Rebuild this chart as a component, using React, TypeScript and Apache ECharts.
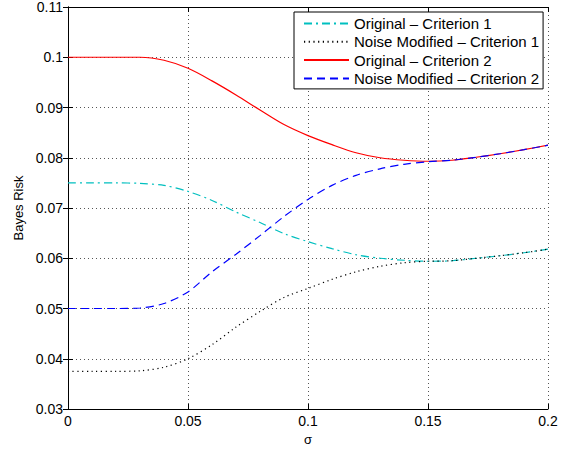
import React, { useEffect, useRef } from "react";
import * as echarts from "echarts";

const sigma = [0, 0.01, 0.02, 0.03, 0.04, 0.05, 0.06, 0.07, 0.08, 0.09, 0.1, 0.11, 0.12, 0.13, 0.14, 0.15, 0.16, 0.17, 0.18, 0.19, 0.2];
const originalC1 = [0.075, 0.075, 0.075, 0.0749, 0.0745, 0.0733, 0.0715, 0.0692, 0.0671, 0.0649, 0.0633, 0.0619, 0.0607, 0.06, 0.0596, 0.0594, 0.0595, 0.06, 0.0605, 0.0611, 0.0618];
const noiseC1 = [0.0375, 0.0375, 0.0375, 0.0376, 0.0383, 0.04, 0.0428, 0.0463, 0.0494, 0.0522, 0.054, 0.0558, 0.0573, 0.0584, 0.0591, 0.0594, 0.0595, 0.06, 0.0605, 0.0611, 0.0618];
const originalC2 = [0.1, 0.1, 0.1, 0.1, 0.0994, 0.0978, 0.0953, 0.0925, 0.0895, 0.0866, 0.0844, 0.0826, 0.081, 0.08, 0.0795, 0.0793, 0.0795, 0.0801, 0.0808, 0.0816, 0.0825];
const noiseC2 = [0.05, 0.05, 0.05, 0.0501, 0.051, 0.0533, 0.0573, 0.0608, 0.0645, 0.0683, 0.0717, 0.0745, 0.0765, 0.0778, 0.0787, 0.0792, 0.0795, 0.0801, 0.0808, 0.0816, 0.0825];

const seriesNames = ["Original – Criterion 1", "Noise Modified – Criterion 1", "Original – Criterion 2", "Noise Modified – Criterion 2"];
const xTickLabels = ["0", "0.05", "0.1", "0.15", "0.2"];
const yTickLabels = ["0.03", "0.04", "0.05", "0.06", "0.07", "0.08", "0.09", "0.1", "0.11"];

const FONT = "Liberation Sans, Arial, Helvetica, sans-serif";

export default function App() {
  const ref = useRef<HTMLDivElement>(null);
  useEffect(() => {
    if (!ref.current) return;
    const chart = echarts.init(ref.current, null, { renderer: "svg" });
    const toPairs = (ys: number[]) => sigma.map((x, i) => [x, ys[i]]);
    const gridLine = { show: true, lineStyle: { color: "#555", width: 1, type: [1, 3] as any } };
    const sharedAxis = {
      axisLine: { show: true, lineStyle: { color: "#000", width: 1 } },
      axisTick: { show: true, inside: true, length: 5, lineStyle: { color: "#000" } },
    };
    const option: any = {
      animation: false,
      backgroundColor: "#fff",
      textStyle: { fontFamily: FONT },
      grid: { left: 68, right: 19, top: 5, bottom: 42, containLabel: false },
      legend: {
        orient: "vertical",
        left: 294,
        top: 12,
        data: seriesNames,
        itemWidth: 45,
        itemHeight: 14,
        itemGap: 3.3,
        padding: [4, 4, 3, 9],
        backgroundColor: "#fff",
        borderColor: "#000",
        borderWidth: 1,
        borderRadius: 0,
        itemStyle: { opacity: 0 },
        textStyle: { fontFamily: FONT, fontSize: 15, color: "#000" },
      },
      xAxis: [
        {
          type: "value",
          min: 0,
          max: 0.2,
          interval: 0.05,
          name: "σ",
          nameLocation: "middle",
          nameGap: 22,
          nameTextStyle: { fontFamily: FONT, fontSize: 13, color: "#000" },
          ...sharedAxis,
          axisLabel: {
            color: "#000",
            fontSize: 14,
            fontFamily: FONT,
            margin: 5,
            formatter: (_v: number, i: number) => xTickLabels[i],
          },
          splitLine: gridLine,
        },
        {
          type: "value",
          position: "top",
          min: 0,
          max: 0.2,
          interval: 0.05,
          ...sharedAxis,
          axisLabel: { show: false },
          splitLine: { show: false },
        },
      ],
      yAxis: [
        {
          type: "value",
          min: 0.03,
          max: 0.11,
          interval: 0.01,
          name: "Bayes Risk",
          nameLocation: "middle",
          nameGap: 40,
          nameTextStyle: { fontFamily: FONT, fontSize: 13, color: "#000" },
          ...sharedAxis,
          axisLabel: {
            color: "#000",
            fontSize: 14,
            fontFamily: FONT,
            margin: 5,
            formatter: (_v: number, i: number) => yTickLabels[i],
          },
          splitLine: gridLine,
        },
        {
          type: "value",
          position: "right",
          min: 0.03,
          max: 0.11,
          interval: 0.01,
          ...sharedAxis,
          axisLabel: { show: false },
          splitLine: { show: false },
        },
      ],
      series: [
        {
          name: seriesNames[0],
          type: "line",
          data: toPairs(originalC1),
          smooth: 0.3,
          symbol: "none",
          color: "#00BFBF",
          lineStyle: { color: "#00BFBF", width: 1.2, type: [8, 4, 2, 4] },
        },
        {
          name: seriesNames[1],
          type: "line",
          data: toPairs(noiseC1),
          smooth: 0.3,
          symbol: "none",
          color: "#000",
          lineStyle: { color: "#000", width: 1.2, type: [1.2, 3.5] },
        },
        {
          name: seriesNames[2],
          type: "line",
          data: toPairs(originalC2),
          smooth: 0.3,
          symbol: "none",
          color: "#FF0000",
          lineStyle: { color: "#FF0000", width: 1.2, type: "solid" },
        },
        {
          name: seriesNames[3],
          type: "line",
          data: toPairs(noiseC2),
          smooth: 0.3,
          symbol: "none",
          color: "#0000FF",
          lineStyle: { color: "#0000FF", width: 1.2, type: [8, 5] },
        },
      ],
    };
    chart.setOption(option);
    return () => chart.dispose();
  }, []);
  return (
    <div
      ref={ref}
      style={{ position: "absolute", left: 0, top: 0, width: 567, height: 451, background: "#fff" }}
    />
  );
}
